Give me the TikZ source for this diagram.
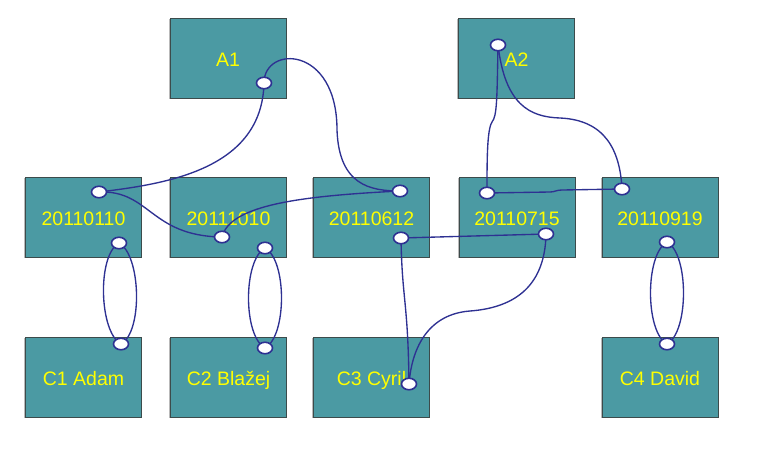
\documentclass[tikz,border=0pt]{standalone}
\usepackage{fontspec}
\setmainfont{Liberation Sans}
\usetikzlibrary{shapes.geometric,shadows}
\definecolor{boxfill}{HTML}{4B9AA3}
\definecolor{boxline}{HTML}{3C4B4B}
\definecolor{linkc}{HTML}{2E3192}
\definecolor{txt}{HTML}{FFFF00}
\begin{document}
\begin{tikzpicture}[x=1pt,y=-1pt,
 entity/.style={draw=boxline, line width=1pt, fill=boxfill, minimum width=116pt, minimum height=80pt, inner sep=0pt, text=txt, text height=16pt, text depth=0pt, font=\fontsize{19.5}{20}\selectfont, drop shadow={shadow xshift=-1.3pt, shadow yshift=-1.3pt, fill=gray!55, opacity=1}},
 link/.style={draw=linkc, line width=1.35pt},
 port/.style={ellipse, draw=linkc, fill=white, line width=1.6pt, minimum width=15pt, minimum height=11.5pt, inner sep=0pt}]
\useasboundingbox (0,0) rectangle (765,461);
% boxes
\node[entity] (A1) at (228,58) {A1};
\node[entity] (A2) at (516.5,58) {A2};
\node[entity] (D1) at (83.5,217) {20110110};
\node[entity] (D2) at (228.5,217) {20111010};
\node[entity] (D3) at (371.5,217) {20110612};
\node[entity] (D4) at (517,217) {20110715};
\node[entity] (D5) at (660,217) {20110919};
\node[entity] (C1) at (83.5,377) {C1 Adam};
\node[entity] (C2) at (228.5,377) {C2 Blažej};
\node[entity] (C3) at (371.5,377) {C3 Cyril};
\node[entity] (C4) at (660,377) {C4 David};
% port positions
\coordinate (pA1) at (264,83);
\coordinate (pA2) at (498,45);
\coordinate (pD1t) at (99,192);
\coordinate (pD1b) at (119,243);
\coordinate (pD2t) at (222,237);
\coordinate (pD2b) at (265,248);
\coordinate (pD3t) at (400,191);
\coordinate (pD3b) at (401,238);
\coordinate (pD4t) at (487,193);
\coordinate (pD4b) at (546,234);
\coordinate (pD5t) at (622,189);
\coordinate (pD5b) at (667,242);
\coordinate (pC1) at (121,344);
\coordinate (pC2) at (265,348);
\coordinate (pC3) at (409,384);
\coordinate (pC4) at (667,344);
% links
\draw[link] (pA1) .. controls (262,170) and (165,184) .. (pD1t);
\draw[link] (pA1) .. controls (264,45) and (337,45) .. (337,130) .. controls (339,185) and (370,191) .. (pD3t);
\draw[link] (pD1t) .. controls (150,190) and (150,236) .. (pD2t);
\draw[link] (pD2t) .. controls (230,205) and (300,196) .. (pD3t);
\draw[link] (pD3b) -- (pD4b);
\draw[link] (pD3b) .. controls (402,300) and (408,300) .. (pC3);
\draw[link] (pD4b) .. controls (545,290) and (510,308) .. (470,311) .. controls (430,314) and (412,345) .. (pC3);
\draw[link] (pA2) .. controls (497,100) and (497,116) .. (492,122) .. controls (487,130) and (487,160) .. (pD4t);
\draw[link] (pA2) .. controls (505,105) and (530,117) .. (560,118) .. controls (605,120) and (620,150) .. (pD5t);
\draw[link] (pD4t) -- (550,192) .. controls (555,192) and (556,190) .. (562,190) -- (pD5t);
\draw[link] (pD1b) .. controls +(-22,12) and +(-22,-12) .. (pC1);
\draw[link] (pD1b) .. controls +(22,12) and +(22,-12) .. (pC1);
\draw[link] (pD2b) .. controls +(-22,12) and +(-22,-12) .. (pC2);
\draw[link] (pD2b) .. controls +(22,12) and +(22,-12) .. (pC2);
\draw[link] (pD5b) .. controls +(-22,12) and +(-22,-12) .. (pC4);
\draw[link] (pD5b) .. controls +(22,12) and +(22,-12) .. (pC4);
% ports
\foreach \p in {pA1,pA2,pD1t,pD1b,pD2t,pD2b,pD3t,pD3b,pD4t,pD4b,pD5t,pD5b,pC1,pC2,pC3,pC4}
  \node[port] (\p-m) at (\p) {};
\end{tikzpicture}
\end{document}
